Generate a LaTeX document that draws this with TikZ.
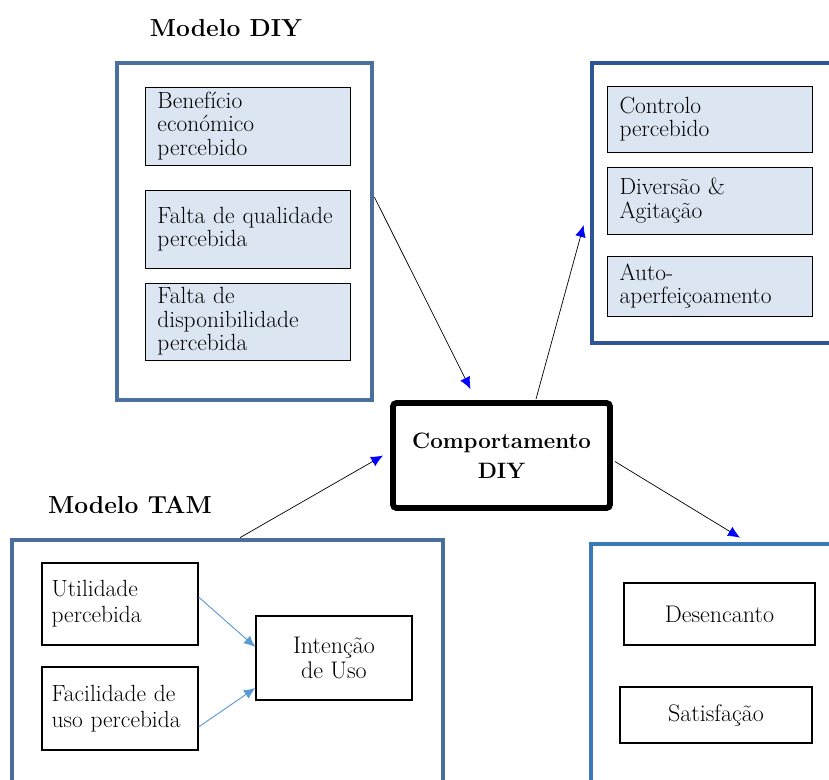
\documentclass[tikz,border=0pt]{standalone}
\usepackage{tikz}
\usetikzlibrary{positioning}
\usetikzlibrary{arrows.meta}
\usetikzlibrary{calc}
\definecolor{diyblue}{RGB}{76,112,158}
\definecolor{affblue}{RGB}{47,85,151}
\definecolor{tamblue}{RGB}{74,111,156}
\definecolor{outblue}{RGB}{58,121,186}
\definecolor{factorfill}{RGB}{220,230,242}
\definecolor{tiplight}{RGB}{91,155,213}
\tikzset{
  x=0.03cm, y=-0.03cm,
  frame/.style={rectangle,line width=4pt,inner sep=0pt},
  factor/.style={rectangle,draw=black,fill=factorfill,line width=0.7pt,
                 align=left,text width=5.4cm,inner xsep=0.375cm,
                 font=\fontsize{20}{20}\selectfont},
  plainbox/.style={rectangle,draw=black,fill=white,line width=1pt,
                   align=left,text width=4.1cm,inner xsep=0.29cm,
                   font=\fontsize{20}{22}\selectfont},
  result/.style={rectangle,draw=black,fill=white,line width=1.2pt,
                 align=center,font=\fontsize{20.5}{22}\selectfont},
  core/.style={rectangle,draw=black,line width=5pt,rounded corners=3pt,
               align=center,font=\bfseries\fontsize{19}{26}\selectfont},
  title/.style={font=\bfseries\fontsize{21}{24}\selectfont},
  link/.style={-{Latex[length=3.6mm,width=3.2mm,color=blue]},line width=0.6pt},
  softlink/.style={-{Latex[length=3.4mm,width=3mm]},draw=tiplight,line width=0.8pt},
}
\begin{document}
\begin{tikzpicture}
    \clip (0,0) rectangle (829,780);
    \useasboundingbox (0,0) rectangle (829,780);

    % Modelo DIY
    \node[title] (diytitle) at (226,28) {Modelo DIY};
    \node[frame,draw=diyblue,minimum width=7.65cm,minimum height=10.11cm]
        (diyframe) at (244.5,231.5) {};
    \node[factor,minimum height=2.34cm] (benef) at (247.5,126)
        {Benefício\\económico\\percebido};
    \node[factor,minimum height=2.34cm] (quali) at (247.5,229)
        {Falta de qualidade\\percebida};
    \node[factor,minimum height=2.31cm] (dispo) at (247.5,321.5)
        {Falta de\\disponibilidade\\percebida};

    % Afetos
    \node[frame,draw=affblue,minimum width=7.59cm,minimum height=8.4cm]
        (affframe) at (718.5,203) {};
    \node[factor,minimum height=1.98cm] (contr) at (709.5,119)
        {Controlo\\percebido};
    \node[factor,minimum height=2.01cm] (diver) at (709.5,200.5)
        {Diversão \&\\Agitação};
    \node[factor,minimum height=1.8cm] (autoa) at (709.5,286)
        {Auto-\\aperfeiçoamento};

    % Comportamento
    \node[core,minimum width=6.51cm,minimum height=3.15cm] (comp) at (501.5,455.5)
        {Comportamento\\DIY};

    % Modelo TAM
    \node[title] (tamtitle) at (130,505) {Modelo TAM};
    \node[frame,draw=tamblue,minimum width=12.93cm,minimum height=7.5cm]
        (tamframe) at (227.5,665) {};
    \node[plainbox,minimum height=2.46cm] (util) at (120,604)
        {Utilidade\\percebida};
    \node[plainbox,minimum height=2.49cm] (facil) at (120,708.5)
        {Facilidade de\\uso percebida};
    \node[result,minimum width=4.68cm,minimum height=2.52cm] (inten) at (334,658)
        {Intenção\\de Uso};

    % Resultados
    \node[frame,draw=outblue,minimum width=7.77cm,minimum height=7.68cm]
        (outframe) at (720.5,672) {};
    \node[result,minimum width=5.73cm,minimum height=1.86cm] (desen) at (719.5,614)
        {Desencanto};
    \node[result,minimum width=5.76cm,minimum height=1.68cm] (satis) at (716,715)
        {Satisfação};

    % Ligacoes
    \draw[link] ($(diyframe.east)+(0,-34.5)$) -- ($(comp.north)+(-31,-11)$);
    \draw[link] ($(comp.north)+(34.5,-1)$) -- ($(affframe.west)+(-6,22)$);
    \draw[link] ($(tamframe.north)+(12.5,0)$) -- ($(comp.west)+(-7,0)$);
    \draw[link] ($(comp.east)+(2,6)$) -- ($(outframe.north)+(19.5,-4)$);
    \draw[softlink] ($(util.east)+(0,-7)$) -- ($(inten.west)+(0,-11)$);
    \draw[softlink] ($(facil.east)+(0,18.5)$) -- ($(inten.west)+(0,30)$);
\end{tikzpicture}
\end{document}
